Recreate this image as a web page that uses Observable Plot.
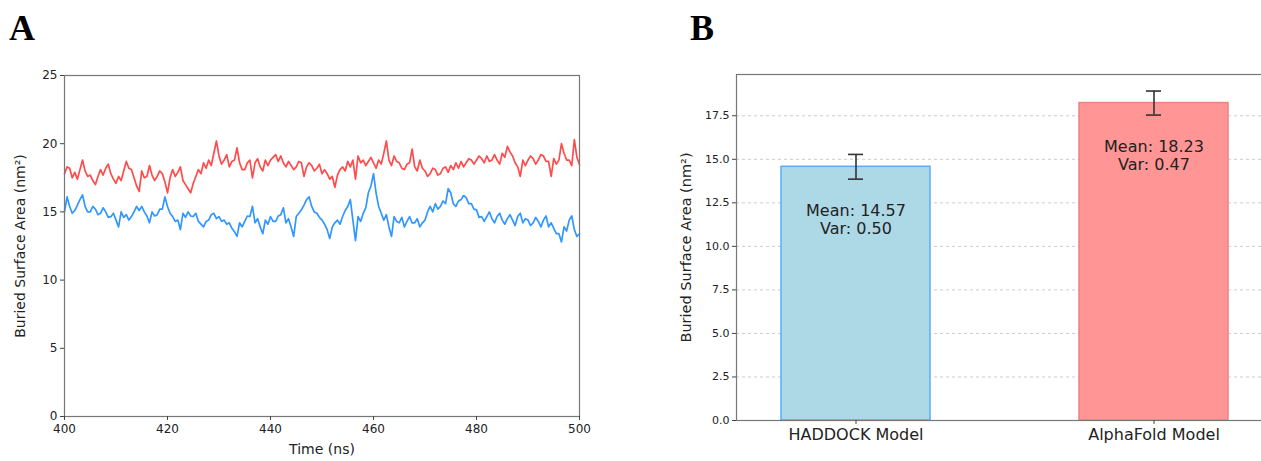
<!DOCTYPE html>
<html><head><meta charset="utf-8">
<script src="https://cdn.jsdelivr.net/npm/d3@7"></script>
<script src="https://cdn.jsdelivr.net/npm/@observablehq/plot@0.6"></script>
<style>
html,body{margin:0;padding:0;background:#fff;overflow:hidden;}
#wrap{position:relative;width:1261px;height:461px;overflow:hidden;font-family:"DejaVu Sans",sans-serif;}
.panel{position:absolute;top:0;}
.panel svg{max-width:none !important;height:auto;}
#pa{width:600px;} #pb{width:632px;}
.letter{position:absolute;font-family:"Liberation Serif",serif;font-weight:bold;font-size:36px;line-height:1;color:#000;}
</style></head><body>
<div id="wrap">
  <div id="pa" class="panel" style="left:0px"></div>
  <div id="pb" class="panel" style="left:640px"></div>
  <div class="letter" style="left:9px;top:10px">A</div>
  <div class="letter" style="left:690px;top:10px">B</div>
</div>
<script>
// ---- Panel A data: buried surface area over time (0.5 ns sampling, 400–500 ns)
const timeStart = 400;
const timeStep = 0.5;
const alphafoldSeries = [
17.8,18.3,18.2,17.5,17.9,17.4,18.1,18.8,18.0,17.6,17.7,17.3,17.0,17.6,18.1,17.7,18.2,18.5,17.8,17.4,
17.1,17.6,17.3,18.0,18.7,18.2,18.1,17.5,16.9,16.5,18.0,17.5,17.6,18.4,17.7,17.3,17.6,18.0,17.8,17.2,
16.4,17.5,18.1,17.6,17.9,18.3,17.3,17.0,16.7,16.4,17.1,17.6,18.1,17.8,18.6,18.2,18.8,18.4,19.3,20.2,
19.1,18.5,18.8,19.2,18.3,18.7,18.8,19.7,18.6,18.1,18.1,18.6,18.8,17.5,18.6,18.9,18.3,18.0,18.8,18.4,
18.8,19.0,19.2,18.7,19.1,18.6,18.3,18.7,18.4,18.1,18.3,18.7,18.6,17.6,18.3,18.6,18.4,18.0,18.2,18.5,
17.8,18.1,17.8,17.4,17.6,16.8,17.7,18.1,18.3,18.0,18.7,18.3,18.8,17.4,19.1,18.6,18.8,18.4,18.7,19.0,
18.6,18.2,18.8,18.5,19.3,20.2,18.8,18.4,19.1,18.7,18.6,18.2,18.1,18.5,18.6,19.6,18.3,18.0,18.8,18.2,
18.0,17.6,17.8,18.2,18.1,17.7,17.8,18.2,18.3,17.9,18.4,18.1,18.6,18.2,18.7,18.3,18.6,18.9,18.8,18.5,
18.8,19.1,18.9,18.6,19.1,18.7,18.8,19.2,18.8,18.5,19.3,19.0,19.8,19.4,19.1,18.6,18.3,17.6,18.8,18.4,
18.8,19.1,18.9,18.5,18.8,19.2,19.1,18.7,18.7,17.6,18.9,18.5,18.8,20.0,19.3,18.8,18.8,18.4,20.3,19.0,
18.45];
const haddockSeries = [
15.0,16.1,15.4,14.9,15.1,15.5,15.9,16.25,15.4,15.0,15.0,15.4,15.2,14.8,14.9,15.3,15.0,14.6,14.65,14.9,
14.4,13.9,15.0,14.6,14.8,14.4,14.66,15.0,15.4,15.1,15.4,15.0,14.7,14.2,15.0,14.7,14.8,15.2,15.2,16.1,
15.4,14.9,14.66,14.3,14.4,13.7,14.9,14.6,15.0,14.7,14.66,14.9,14.3,14.1,13.9,14.3,14.4,14.8,14.9,14.5,
14.66,14.3,14.4,14.1,14.2,13.8,13.55,13.2,14.2,13.9,14.3,14.7,14.66,15.4,14.2,14.5,13.9,13.4,14.4,14.1,
14.66,14.3,14.3,14.7,14.8,15.3,14.2,14.5,13.9,13.2,14.66,14.9,15.15,15.5,15.9,16.1,15.4,15.0,14.9,14.6,
14.4,14.1,13.7,13.05,13.9,14.2,14.4,14.1,14.66,15.1,15.4,15.9,14.4,12.9,14.66,14.3,14.9,15.3,16.4,16.9,
17.8,16.4,15.4,14.9,14.4,14.8,13.9,13.2,14.66,14.3,14.2,14.6,13.9,14.3,14.66,14.2,14.2,14.5,13.9,14.2,
14.4,15.0,15.4,15.0,15.6,15.2,15.4,15.8,15.6,16.7,16.4,15.6,15.4,15.8,15.9,16.2,16.05,15.6,15.6,15.2,
15.15,14.6,14.66,14.3,14.66,15.0,14.5,14.2,14.66,14.9,14.4,14.1,14.5,14.8,14.4,14.0,14.66,14.9,14.2,14.5,
14.4,14.0,14.2,14.6,14.3,13.9,14.4,14.7,13.9,14.2,13.8,13.4,13.4,12.8,13.9,13.6,14.4,14.7,13.7,13.2,
13.4];
const seriesNames = ["AlphaFold", "HADDOCK"];
const timeTicks = [400, 420, 440, 460, 480, 500];
const areaTicksA = [0, 5, 10, 15, 20, 25];

// ---- Panel B data
const models = ["HADDOCK Model", "AlphaFold Model"];
const means = [14.57, 18.23];
const variances = [0.50, 0.47];
const errors = [0.71, 0.69];
const areaTicksB = [0, 2.5, 5, 7.5, 10, 12.5, 15, 17.5];

// ---- Panel A
const rowsA = [];
alphafoldSeries.forEach((v, i) => rowsA.push({t: timeStart + i * timeStep, v, s: "AlphaFold"}));
haddockSeries.forEach((v, i) => rowsA.push({t: timeStart + i * timeStep, v, s: "HADDOCK"}));

const yTitle = "Buried Surface Area (nm²)";

const plotA = Plot.plot({
  width: 600, height: 461,
  marginLeft: 64, marginRight: 21, marginTop: 75, marginBottom: 45,
  style: {fontFamily: "DejaVu Sans, sans-serif", fontSize: "12px", color: "#222", background: "transparent", overflow: "visible"},
  x: {domain: [400, 500]},
  y: {domain: [0, 25]},
  color: {domain: seriesNames, range: ["#ff4b4b", "#3197ff"]},
  marks: [
    Plot.lineY(rowsA, {x: "t", y: "v", z: "s", stroke: "s", strokeWidth: 1.7}),
    Plot.frame({stroke: "#777", strokeWidth: 1.2}),
    Plot.axisX({ticks: timeTicks, tickSize: 4, tickPadding: 4, stroke: "#444", fontSize: 12, label: null}),
    Plot.axisY({ticks: areaTicksA, tickSize: 4, tickPadding: 3, stroke: "#444", fontSize: 12, label: null}),
    Plot.text(["Time (ns)"], {frameAnchor: "bottom", dy: 37, fontSize: 14, fill: "#222"}),
    Plot.text([yTitle], {frameAnchor: "left", dx: -44, rotate: -90, textAnchor: "middle", fontSize: 14, fill: "#222"})
  ]
});
document.getElementById("pa").appendChild(plotA);

// ---- Panel B
const rowsB = models.map((m, i) => ({
  model: m, mean: means[i], variance: variances[i],
  lo: means[i] - errors[i], hi: means[i] + errors[i]
}));
const fillOf = {"HADDOCK Model": "#add8e6", "AlphaFold Model": "#ff9595"};
const edgeOf = {"HADDOCK Model": "#5aacf7", "AlphaFold Model": "#ec8282"};

const plotB = Plot.plot({
  width: 632, height: 461,
  marginLeft: 96, marginRight: 0, marginTop: 74, marginBottom: 41,
  style: {fontFamily: "DejaVu Sans, sans-serif", fontSize: "11px", color: "#222", background: "transparent", overflow: "visible"},
  x: {domain: models, paddingInner: 0.5, paddingOuter: 0.149},
  y: {domain: [0, 19.87]},
  marks: [
    Plot.gridY(areaTicksB, {stroke: "#aaa", strokeOpacity: 0.6, strokeDasharray: "3,3"}),
    Plot.barY(rowsB, {x: "model", y: "mean", fill: d => fillOf[d.model], stroke: d => edgeOf[d.model], strokeWidth: 1.5}),
    Plot.ruleX(rowsB, {x: "model", y1: "lo", y2: "hi", stroke: "#333", strokeWidth: 1.6}),
    Plot.tickY(rowsB, {x: "model", y: "lo", stroke: "#333", strokeWidth: 1.6, insetLeft: 67, insetRight: 67}),
    Plot.tickY(rowsB, {x: "model", y: "hi", stroke: "#333", strokeWidth: 1.6, insetLeft: 67, insetRight: 67}),
    Plot.text(rowsB, {x: "model", y: d => d.mean - 3,
      text: d => `Mean: ${d.mean.toFixed(2)}\nVar: ${d.variance.toFixed(2)}`,
      fontSize: 16, lineHeight: 1.15, fill: "#222"}),
    Plot.frame({stroke: "#777", strokeWidth: 1.2}),
    Plot.axisX({tickSize: 4, tickPadding: 4, stroke: "#444", fontSize: 16, label: null}),
    Plot.axisY({ticks: areaTicksB, tickFormat: d3.format(".1f"), tickSize: 4, tickPadding: 3, stroke: "#444", fontSize: 11, label: null}),
    Plot.text([yTitle], {frameAnchor: "left", dx: -50, rotate: -90, textAnchor: "middle", fontSize: 14.5, fill: "#222"})
  ]
});
document.getElementById("pb").appendChild(plotB);
</script>
</body></html>
